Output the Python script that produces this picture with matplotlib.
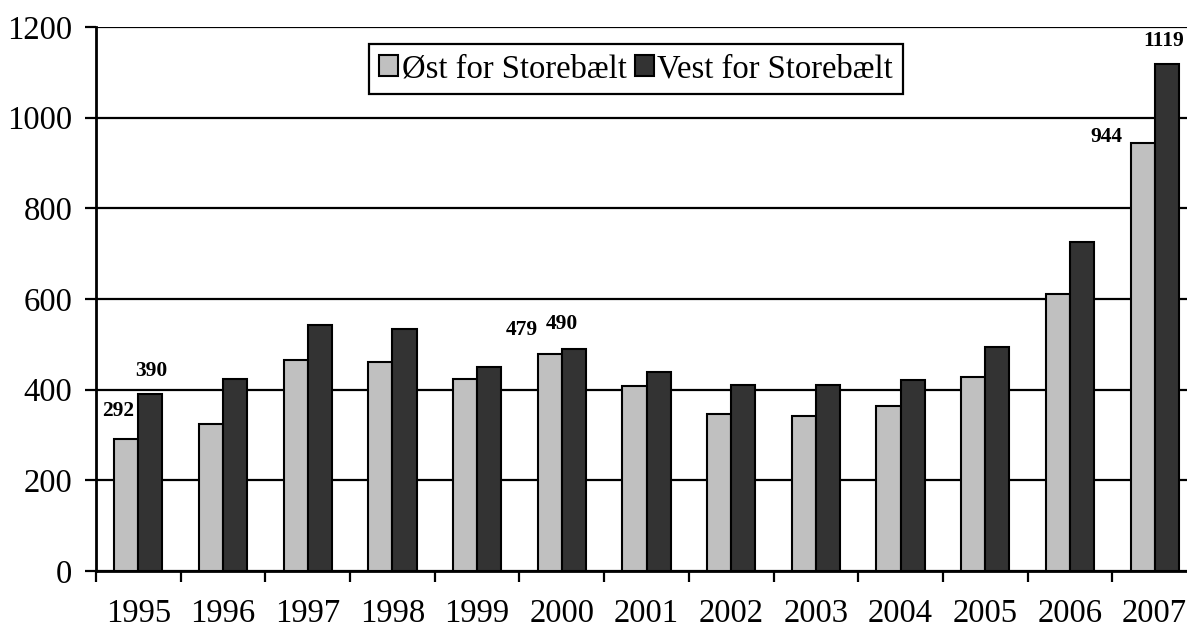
import numpy as np
import matplotlib
matplotlib.use("Agg")
import matplotlib.pyplot as plt

years = ["1995", "1996", "1997", "1998", "1999", "2000", "2001",
         "2002", "2003", "2004", "2005", "2006", "2007"]
oest = [292, 325, 466, 462, 423, 479, 408, 346, 341, 365, 428, 612, 944]
vest = [390, 423, 543, 533, 451, 490, 440, 410, 410, 422, 495, 726, 1119]
series_names = ["Øst for Storebælt", "Vest for Storebælt"]
y_ticks = [0, 200, 400, 600, 800, 1000, 1200]

# (series index, year index, x offset pt, y offset pt)
labelled = [(0, 0, -6, 20), (1, 0, 1, 17), (0, 5, -20, 17), (1, 5, -9, 18),
            (0, 12, -26, 4), (1, 12, -2, 16)]

plt.rcParams["font.family"] = ["Liberation Serif", "DejaVu Serif"]

fig = plt.figure(figsize=(11.87, 6.30), dpi=100)
ax = fig.add_axes([96 / 1187, 59 / 630, 1101 / 1187, 544 / 630])

x = np.arange(len(years))
w = 0.285
bars_o = ax.bar(x - w / 2, oest, w, color="#c0c0c0", edgecolor="black",
                linewidth=1.5, label=series_names[0], zorder=3)
bars_v = ax.bar(x + w / 2, vest, w, color="#333333", edgecolor="black",
                linewidth=1.5, label=series_names[1], zorder=3)

ax.set_xlim(-0.5, len(years) - 0.5)
ax.set_ylim(0, 1200)
ax.set_yticks(y_ticks)
ax.set_yticklabels([str(t) for t in y_ticks], fontsize=23.5)
ax.yaxis.grid(True, color="black", linewidth=1.6, zorder=0)
ax.set_axisbelow(True)

ax.set_xticks(x)
ax.set_xticklabels(years, fontsize=23.5)
ax.set_xticks(np.arange(-0.5, len(years), 1.0), minor=True)
ax.tick_params(axis="x", which="major", length=0, pad=20)
ax.tick_params(axis="x", which="minor", length=8, width=1.6, direction="out")
ax.tick_params(axis="y", length=8, width=1.6, direction="out", pad=9)

for s in ["top", "right"]:
    ax.spines[s].set_visible(False)
for s in ["left", "bottom"]:
    ax.spines[s].set_linewidth(2.0)
    ax.spines[s].set_zorder(4)

values = [oest, vest]
for si, yi, dx, dy in labelled:
    xpos = x[yi] + (-w / 2 if si == 0 else w / 2)
    ax.annotate(str(values[si][yi]), (xpos, values[si][yi]),
                xytext=(dx, dy), textcoords="offset points",
                ha="center", va="center", fontsize=15.5, fontweight="bold")

leg = fig.legend(handles=[bars_o, bars_v], loc="center",
                 bbox_to_anchor=(636 / 1187, 1 - 69 / 630),
                 bbox_transform=fig.transFigure, ncol=2, fontsize=23.5,
                 frameon=True, fancybox=False, framealpha=1,
                 edgecolor="black", handlelength=0.6, handleheight=0.6,
                 handletextpad=0.1, columnspacing=0.25, borderpad=0.3,
                 borderaxespad=0)
leg.get_frame().set_linewidth(1.6)

fig.savefig("out.png", dpi=100)
